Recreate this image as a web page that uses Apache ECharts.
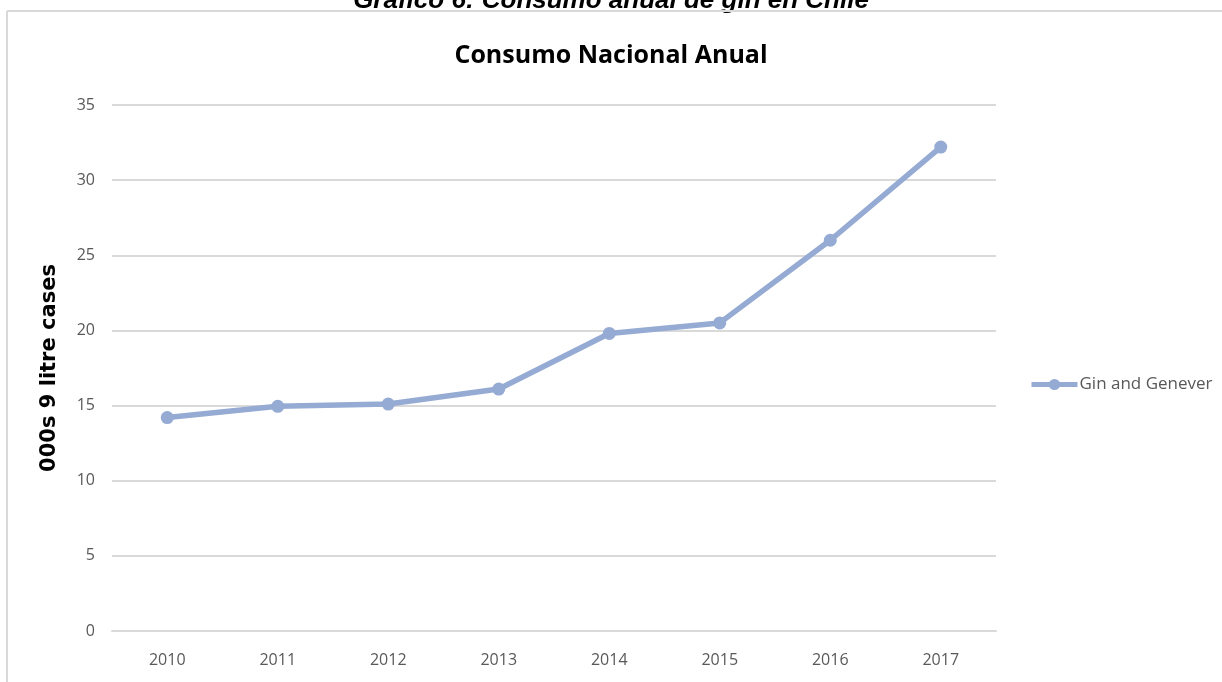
<!DOCTYPE html>
<html>
<head>
<meta charset="utf-8">
<title>Consumo Nacional Anual</title>
<script src="https://cdn.jsdelivr.net/npm/echarts@6/dist/echarts.min.js"></script>
<style>
  html, body { margin: 0; padding: 0; background: #ffffff; }
  #chart { width: 1222px; height: 682px; }
</style>
</head>
<body>
<div id="chart"></div>
<script>
// Annual national gin consumption in Chile (thousands of 9-litre cases)
const years = ['2010', '2011', '2012', '2013', '2014', '2015', '2016', '2017'];
const ginAndGenever = [14.2, 14.95, 15.1, 16.1, 19.8, 20.5, 26.0, 32.2];
const seriesName = 'Gin and Genever';
const captionText = 'Gráfico 6: Consumo anual de gin en Chile';
const titleText = 'Consumo Nacional Anual';
const yAxisName = '000s 9 litre cases';

const lineColor = '#95abd3';
const gridColor = '#d9d9d9';
const labelColor = '#595959';

const chart = echarts.init(document.getElementById('chart'), null, { renderer: 'canvas' });

chart.setOption({
  backgroundColor: '#ffffff',
  animation: false,
  title: {
    text: titleText,
    left: 'center',
    top: 38,
    textStyle: {
      fontFamily: 'Open Sans',
      fontWeight: 'bold',
      fontSize: 25,
      color: '#000000'
    }
  },
  legend: {
    data: [seriesName],
    left: 1029,
    top: 376,
    padding: 0,
    itemWidth: 46,
    itemHeight: 14,
    itemGap: 4,
    lineStyle: { width: 5 },
    textStyle: {
      fontFamily: 'Open Sans',
      fontSize: 17,
      color: labelColor,
      padding: [0, 0, 0, -3]
    }
  },
  grid: {
    left: 112,
    right: 226,
    top: 105,
    bottom: 51,
    containLabel: false
  },
  xAxis: {
    type: 'category',
    data: years,
    boundaryGap: true,
    axisLine: { show: true, lineStyle: { color: gridColor, width: 2 } },
    axisTick: { show: false },
    axisLabel: {
      margin: 21,
      fontFamily: 'Open Sans',
      fontSize: 16,
      color: labelColor
    }
  },
  yAxis: {
    type: 'value',
    min: 0,
    max: 35,
    interval: 5,
    name: yAxisName,
    nameLocation: 'middle',
    nameRotate: 90,
    nameGap: 52,
    nameTextStyle: {
      fontFamily: 'DejaVu Sans',
      fontWeight: 'bold',
      fontSize: 21,
      color: '#000000'
    },
    axisLine: { show: false },
    axisTick: { show: false },
    axisLabel: {
      margin: 17,
      fontFamily: 'Open Sans',
      fontSize: 16,
      color: labelColor
    },
    splitLine: { show: true, lineStyle: { color: gridColor, width: 2 } }
  },
  series: [{
    name: seriesName,
    type: 'line',
    data: ginAndGenever,
    symbol: 'circle',
    symbolSize: 13,
    lineStyle: { color: lineColor, width: 5.5 },
    itemStyle: { color: lineColor },
    emphasis: { disabled: true }
  }],
  graphic: [
    {
      type: 'text',
      left: 'center',
      top: -12,
      style: {
        text: captionText,
        fontFamily: 'Liberation Sans',
        fontWeight: 'bold',
        fontStyle: 'italic',
        fontSize: 26,
        fill: '#000000'
      }
    },
    {
      type: 'line',
      shape: { x1: 7, y1: 11, x2: 1222, y2: 11 },
      style: { stroke: gridColor, lineWidth: 2 }
    },
    {
      type: 'line',
      shape: { x1: 7, y1: 11, x2: 7, y2: 682 },
      style: { stroke: gridColor, lineWidth: 2 }
    }
  ]
});
</script>
</body>
</html>
